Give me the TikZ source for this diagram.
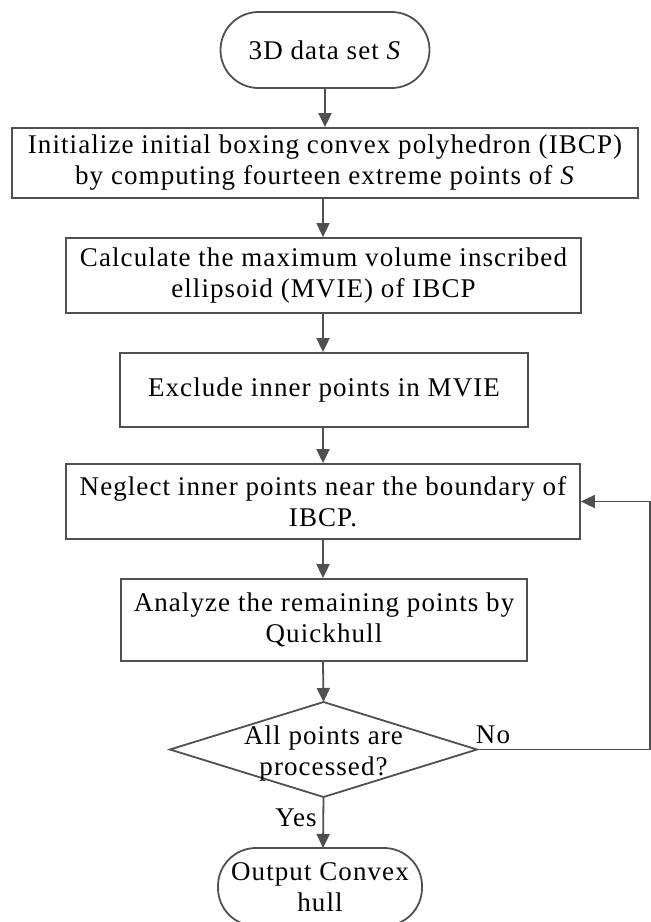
\documentclass[tikz,border=0pt]{standalone}
\usepackage{fontspec}
\setmainfont{Liberation Serif}[LetterSpace=4]
\usetikzlibrary{arrows.meta,shapes.geometric}
\definecolor{ln}{HTML}{505050}
\tikzset{
  every node/.style={font=\fontsize{27}{31}\selectfont, align=center, inner sep=0pt},
  procbox/.style={draw=ln, line width=1.8pt, rectangle, fill=white},
  termbox/.style={draw=ln, line width=1.8pt, rectangle, fill=white},
  flow/.style={draw=ln, line width=1.8pt, -{Triangle[length=14pt,width=13pt]}},
  lbl/.style={font=\fontsize{27}{31}\selectfont}
}
\begin{document}
\begin{tikzpicture}[x=1pt,y=-1pt]
\useasboundingbox (0,0) rectangle (651,922);
\node[termbox, minimum width=209pt, minimum height=76pt, rounded corners=38pt] (start) at (325,50) {3D data set \textit{S}};
\node[procbox, minimum width=626pt, minimum height=70pt] (b1) at (325,163) {Initialize initial boxing convex polyhedron (IBCP)\\by computing fourteen extreme points of \textit{S}};
\node[procbox, minimum width=515pt, minimum height=75pt] (b2) at (323.5,275.5) {Calculate the maximum volume inscribed\\ellipsoid (MVIE) of IBCP};
\node[procbox, minimum width=408pt, minimum height=74pt] (b3) at (324,390) {Exclude inner points in MVIE};
\node[procbox, minimum width=514pt, minimum height=75pt] (b4) at (323,501.5) {Neglect inner points near the boundary of\\IBCP.};
\node[procbox, minimum width=406pt, minimum height=82pt] (b5) at (324,620) {Analyze the remaining points by\\Quickhull};
\draw[draw=ln, line width=1.8pt, fill=white] (170,749.5) coordinate (dl) -- (323.5,702) coordinate (dt) -- (477,749.5) coordinate (dr) -- (323.5,797) coordinate (db) -- cycle;
\node (dtext) at (323.5,753) {All points are\\processed?};
\node[termbox, minimum width=204pt, minimum height=78pt, rounded corners=38pt] (end) at (320,887) {Output Convex\\hull};
\coordinate (fr) at (650,749.5);
\coordinate (tr) at (650,501.5);
\draw[flow] (start) -- (start|-b1.north);
\draw[flow] (b1.south-|323,0) -- (b2.north-|323,0);
\draw[flow] (b2.south-|323,0) -- (b3.north-|323,0);
\draw[flow] (b3.south-|323,0) -- (b4.north-|323,0);
\draw[flow] (b4.south-|323,0) -- (b5.north-|323,0);
\draw[flow] (b5.south-|323,0) -- (dt);
\draw[flow] (db) -- (323,848);
\draw[flow] (dr) -- (fr) -- (tr) -- (b4.east);
\node[lbl] (no) at (493,735) {No};
\node[lbl] (yes) at (296,818) {Yes};
\end{tikzpicture}
\end{document}
